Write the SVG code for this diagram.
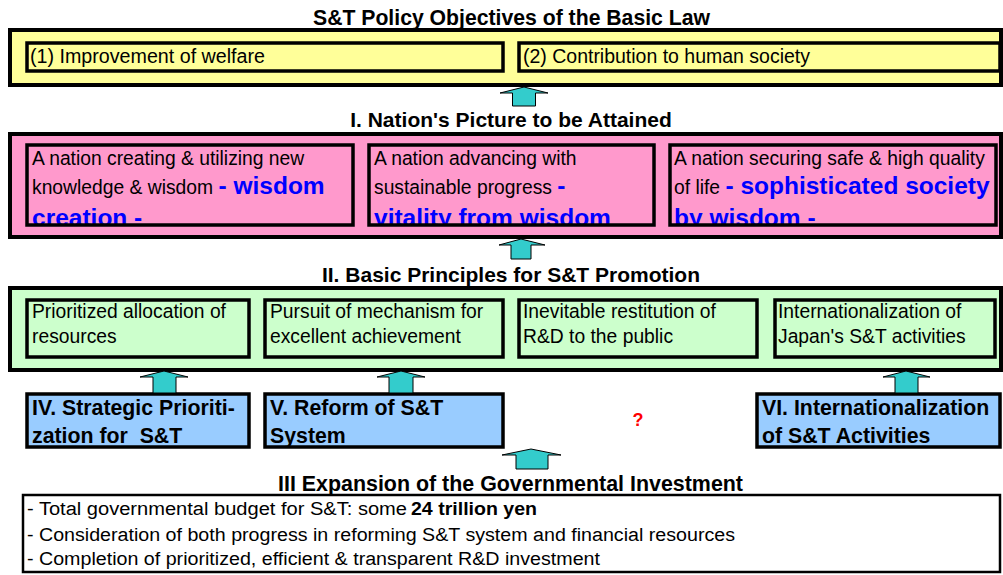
<svg xmlns="http://www.w3.org/2000/svg" width="1003" height="575" viewBox="0 0 1003 575">
<style>
.t{font-family:"Liberation Sans",Arial,sans-serif;fill:#000}
.h{font-weight:bold;font-size:21px}
.r{font-size:19.3px}
.b{font-weight:bold;font-size:24.5px;fill:#0000FF}
.bb{font-weight:bold;font-size:21.3px}
.outer{stroke:#000;stroke-width:4}
.inner{stroke:#000;stroke-width:3.5}
.y{fill:#FFFF99}.p{fill:#FF99CC}.g{fill:#CCFFCC}.bl{fill:#99CCFF}
.arr{fill:#33CCCC;stroke:#000;stroke-width:1}
</style>
<defs>
<clipPath id="cA"><rect x="27" y="145" width="326" height="79"/></clipPath>
<clipPath id="cB"><rect x="369" y="145" width="285" height="79"/></clipPath>
<clipPath id="cC"><rect x="670" y="145" width="326" height="79"/></clipPath>
</defs>

<g id="objectives">
<text class="t" x="313" y="25" font-weight="bold" font-size="22" textLength="397" lengthAdjust="spacingAndGlyphs">S&amp;T Policy Objectives of the Basic Law</text>
<rect class="outer y" x="10" y="30" width="991" height="55"/>
<g id="obj1"><rect class="inner y" x="27" y="43" width="476" height="28"/>
<text class="t" x="30" y="63" font-size="20" textLength="235" lengthAdjust="spacingAndGlyphs">(1) Improvement of welfare</text></g>
<g id="obj2"><rect class="inner y" x="519" y="43" width="481" height="28"/>
<text class="t" x="523" y="63" font-size="20" textLength="287" lengthAdjust="spacingAndGlyphs">(2) Contribution to human society</text></g>
</g>

<g id="nation">
<text class="t h" x="511" y="127" text-anchor="middle">I. Nation's Picture to be Attained</text>
<rect class="outer p" x="10" y="134" width="991" height="103"/>
<g id="nationA">
<rect class="p" x="27" y="145" width="326" height="80"/>
<g clip-path="url(#cA)">
<text class="t r" x="32" y="165">A nation creating &amp; utilizing new</text>
<text class="t r" x="32" y="194">knowledge &amp; wisdom <tspan class="b">- wisdom</tspan></text>
<text class="t b" x="32" y="225.5">creation -</text>
</g>
<rect x="27" y="145" width="326" height="80" fill="none" class="inner"/>
</g>
<g id="nationB">
<rect class="p" x="369" y="145" width="285" height="80"/>
<g clip-path="url(#cB)">
<text class="t r" x="374" y="165">A nation advancing with</text>
<text class="t r" x="374" y="194">sustainable progress <tspan class="b">-</tspan></text>
<text class="t b" x="374" y="225.5">vitality from wisdom</text>
</g>
<rect x="369" y="145" width="285" height="80" fill="none" class="inner"/>
</g>
<g id="nationC">
<rect class="p" x="670" y="145" width="326" height="80"/>
<g clip-path="url(#cC)">
<text class="t r" x="674" y="165">A nation securing safe &amp; high quality</text>
<text class="t r" x="674" y="194">of life <tspan class="b">- sophisticated society</tspan></text>
<text class="t b" x="674" y="225.5">by wisdom -</text>
</g>
<rect x="670" y="145" width="326" height="80" fill="none" class="inner"/>
</g>
</g>

<g id="principles">
<text class="t h" x="511" y="282" text-anchor="middle">II. Basic Principles for S&amp;T Promotion</text>
<rect class="outer g" x="10" y="288" width="991" height="82"/>
<g id="pr1"><rect class="inner g" x="27" y="300" width="222" height="57"/>
<text class="t r" x="32" y="318">Prioritized allocation of</text>
<text class="t r" x="32" y="343">resources</text></g>
<g id="pr2"><rect class="inner g" x="265" y="300" width="238" height="57"/>
<text class="t r" x="270" y="318">Pursuit of mechanism for</text>
<text class="t r" x="270" y="343">excellent achievement</text></g>
<g id="pr3"><rect class="inner g" x="519" y="300" width="238" height="57"/>
<text class="t r" x="523" y="318">Inevitable restitution of</text>
<text class="t r" x="523" y="343">R&amp;D to the public</text></g>
<g id="pr4"><rect class="inner g" x="775" y="300" width="220" height="57"/>
<text class="t r" x="778" y="318">Internationalization of</text>
<text class="t r" x="778" y="343">Japan's S&amp;T activities</text></g>
</g>

<g id="strategic"><rect class="inner bl" x="27" y="394" width="222" height="53"/>
<text class="t bb" x="32" y="415">IV. Strategic Prioriti-</text>
<text class="t bb" x="32" y="443" xml:space="preserve">zation for  S&amp;T</text></g>
<g id="reform"><rect class="inner bl" x="265" y="394" width="238" height="53"/>
<text class="t bb" x="270" y="415">V. Reform of S&amp;T</text>
<text class="t bb" x="270" y="443">System</text></g>
<g id="intl"><rect class="inner bl" x="757" y="394" width="243" height="53"/>
<text class="t bb" x="762" y="415">VI. Internationalization</text>
<text class="t bb" x="762" y="443">of S&amp;T Activities</text></g>
<g id="question"><text class="t" x="638" y="426" text-anchor="middle" font-weight="bold" font-size="18" style="fill:#FF0000">?</text></g>

<g id="investment">
<text class="t" x="278" y="491" font-weight="bold" font-size="22" textLength="465" lengthAdjust="spacingAndGlyphs">III Expansion of the Governmental Investment</text>
<rect x="23" y="495" width="977" height="77" fill="#fff" stroke="#000" stroke-width="2.5"/>
<text class="t" x="27" y="515" font-size="18" textLength="380" lengthAdjust="spacingAndGlyphs">- Total governmental budget for S&amp;T: some</text>
<text class="t" x="411" y="515" font-size="18" font-weight="bold" textLength="126" lengthAdjust="spacingAndGlyphs">24 trillion yen</text>
<text class="t" x="27" y="541" font-size="18" textLength="708" lengthAdjust="spacingAndGlyphs">- Consideration of both progress in reforming S&amp;T system and financial resources</text>
<text class="t" x="27" y="565" font-size="18" textLength="573" lengthAdjust="spacingAndGlyphs">- Completion of prioritized, efficient &amp; transparent R&amp;D investment</text>
</g>

<g id="connectors">
<polygon class="arr" points="512.5,106 535.5,106 535.5,93 548,93 524,87 500,93 512.5,93"/>
<polygon class="arr" points="511,259 531,259 531,245 545,245 521,239 499,245 511,245"/>
<polygon class="arr" points="153,393 176,393 176,377 188,377 164,371 140,377 153,377"/>
<polygon class="arr" points="389,393 413,393 413,377 425,377 401,371 377,377 389,377"/>
<polygon class="arr" points="895,393 918,393 918,377 930,377 906,371 883,377 895,377"/>
<polygon class="arr" points="516,469 548,469 548,455 561,455 531,449 502,455 516,455"/>
</g>
</svg>
